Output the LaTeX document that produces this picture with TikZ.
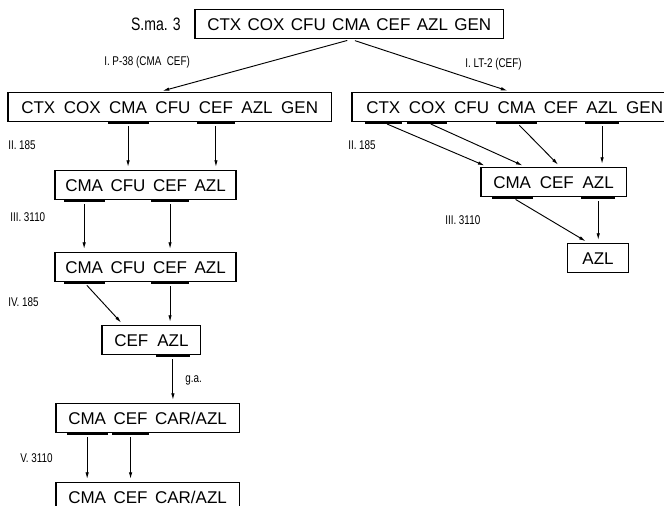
\documentclass[tikz,border=0pt]{standalone}
\usepackage{fontspec}
\setmainfont{Liberation Sans}
\newfontfamily\narrowsans[FakeStretch=0.78]{Liberation Sans}
\usetikzlibrary{arrows.meta,fit,positioning}
\begin{document}
\begin{tikzpicture}[x=0.75pt,y=-0.75pt,
  wd/.style={inner sep=0pt, text height=9.1pt, text depth=0pt, font=\fontsize{12.75}{14}\selectfont},
  box/.style={draw, line width=0.8pt, inner xsep=9pt, inner ysep=6.4pt},
  ul/.style={line width=2.2pt},
  arr/.style={line width=0.7pt, shorten <=3pt, shorten >=2pt, -{Latex[length=5pt,width=2.6pt]}},
  lbl/.style={inner sep=0pt, anchor=west, font=\narrowsans\fontsize{9.5}{11}\selectfont},
]
\useasboundingbox (0,0) rectangle (664,506);
% ---------- top
\node[wd, anchor=west] (Ta) at (207,24) {CTX};
\node[wd, right=4.4pt of Ta] (Tb) {COX};
\node[wd, right=4.4pt of Tb] (Tc) {CFU};
\node[wd, right=4.4pt of Tc] (Td) {CMA};
\node[wd, right=4.4pt of Td] (Te) {CEF};
\node[wd, right=4.4pt of Te] (Tf) {AZL};
\node[wd, right=4.4pt of Tf] (Tg) {GEN};
\node[box, fit=(Ta)(Tg)] (T) {};
\node[wd, anchor=east, font=\narrowsans\fontsize{13.5}{15}\selectfont] (Sma) at (181,24) {S.ma. 3};
% ---------- left row 2
\node[wd, anchor=west] (L2a) at (21,107) {CTX};
\node[wd, right=6pt of L2a] (L2b) {COX};
\node[wd, right=6pt of L2b] (L2c) {CMA};
\node[wd, right=6pt of L2c] (L2d) {CFU};
\node[wd, right=6pt of L2d] (L2e) {CEF};
\node[wd, right=6pt of L2e] (L2f) {AZL};
\node[wd, right=6pt of L2f] (L2g) {GEN};
\node[box, inner xsep=9.75pt, fit=(L2a)(L2g)] (L2) {};
% ---------- right row 2
\node[wd, anchor=west] (R2a) at (366,107) {CTX};
\node[wd, right=6pt of R2a] (R2b) {COX};
\node[wd, right=6pt of R2b] (R2c) {CFU};
\node[wd, right=6pt of R2c] (R2d) {CMA};
\node[wd, right=6pt of R2d] (R2e) {CEF};
\node[wd, right=6pt of R2e] (R2f) {AZL};
\node[wd, right=6pt of R2f] (R2g) {GEN};
\coordinate (R2end) at (660,107);
\node[box, inner xsep=10.5pt, fit=(R2a)(R2g)(R2end)] (R2) {};
% ---------- left row 3
\node[wd, anchor=west] (L3a) at (65,185) {CMA};
\node[wd, right=5.25pt of L3a] (L3b) {CFU};
\node[wd, right=5.25pt of L3b] (L3c) {CEF};
\node[wd, right=5.25pt of L3c] (L3d) {AZL};
\node[box, inner xsep=7.5pt, fit=(L3a)(L3d)] (L3) {};
% ---------- left row 4
\node[wd, anchor=west] (L4a) at (65,267) {CMA};
\node[wd, right=5.25pt of L4a] (L4b) {CFU};
\node[wd, right=5.25pt of L4b] (L4c) {CEF};
\node[wd, right=5.25pt of L4c] (L4d) {AZL};
\node[box, inner xsep=7.5pt, fit=(L4a)(L4d)] (L4) {};
% ---------- left row 5
\node[wd, anchor=west] (L5a) at (114,340) {CEF};
\node[wd, right=6.4pt of L5a] (L5b) {AZL};
\node[box, fit=(L5a)(L5b)] (L5) {};
% ---------- left row 6
\node[wd, anchor=west] (L6a) at (68,418) {CMA};
\node[wd, right=5.25pt of L6a] (L6b) {CEF};
\node[wd, right=5.25pt of L6b] (L6c) {CAR/AZL};
\node[box, fit=(L6a)(L6c)] (L6) {};
% ---------- left row 7
\node[wd, anchor=west] (L7a) at (68,497) {CMA};
\node[wd, right=5.25pt of L7a] (L7b) {CEF};
\node[wd, right=5.25pt of L7b] (L7c) {CAR/AZL};
\node[box, fit=(L7a)(L7c)] (L7) {};
% ---------- right row 3
\node[wd, anchor=west] (R3a) at (493,182) {CMA};
\node[wd, right=6.2pt of R3a] (R3b) {CEF};
\node[wd, right=6.2pt of R3b] (R3c) {AZL};
\node[box, fit=(R3a)(R3c)] (R3) {};
% ---------- right row 4
\node[wd, anchor=center] (R4a) at (598,258) {AZL};
\node[box, inner xsep=10.9pt, fit=(R4a)] (R4) {};
% ---------- underlines
\foreach \w/\b in {L2c/L2,L2e/L2,R2a/R2,R2b/R2,R2d/R2,R2f/R2,L3a/L3,L3c/L3,L4a/L4,L4c/L4,L5b/L5,L6a/L6,L6b/L6,R3a/R3,R3c/R3}
  \draw[ul] ([xshift=-1pt]\w.west |- \b.south) -- ([xshift=1pt]\w.east |- \b.south);
% ---------- labels
\node[lbl] (lP) at (104,62) {I. P-38 (CMA\ \ CEF)};
\node[lbl] (lLT) at (465,64) {I. LT-2 (CEF)};
\node[lbl] (lA) at (8,145) {II. 185};
\node[lbl] (lB) at (10,217) {III. 3110};
\node[lbl] (lC) at (8,302) {IV. 185};
\node[lbl] (lD) at (20,458) {V. 3110};
\node[lbl] (lE) at (348,145) {II. 185};
\node[lbl] (lF) at (445,220) {III. 3110};
\node[lbl] (lG) at (185,380) {g.a.};
% ---------- arrows
\coordinate (tL) at (160,0);
\coordinate (tR) at (510,0);
\draw[arr] (Td.south |- T.south) -- (tL |- L2.north);
\draw[arr] (Td.south |- T.south) -- (tR |- R2.north);
\draw[arr] (L2c.south |- L2.south) -- (L2c.south |- L3.north);
\draw[arr] (L2e.south |- L2.south) -- (L2e.south |- L3.north);
\draw[arr] (L3a.south |- L3.south) -- (L3a.south |- L4.north);
\draw[arr] (L3c.south |- L3.south) -- (L3c.south |- L4.north);
\coordinate (t45) at (123,0);
\draw[arr] (L4a.south |- L4.south) -- (t45 |- L5.north);
\draw[arr] (L4c.south |- L4.south) -- (L4c.south |- L5.north);
\draw[arr] (L5b.south |- L5.south) -- (L5b.south |- L6.north);
\draw[arr] (L6a.south |- L6.south) -- (L6a.south |- L7.north);
\draw[arr] (L6b.south |- L6.south) -- (L6b.south |- L7.north);
\coordinate (r1) at (487,0);
\coordinate (r2) at (525,0);
\coordinate (r3) at (560,0);
\draw[arr] (R2a.south |- R2.south) -- (r1 |- R3.north);
\draw[arr] (R2b.south |- R2.south) -- (r2 |- R3.north);
\draw[arr] (R2d.south |- R2.south) -- (r3 |- R3.north);
\draw[arr] (R2f.south |- R2.south) -- (R2f.south |- R3.north);
\coordinate (r4) at (588,0);
\draw[arr] (R3a.south |- R3.south) -- (r4 |- R4.north);
\draw[arr] (R3c.south |- R3.south) -- (R3c.south |- R4.north);
\end{tikzpicture}
\end{document}
